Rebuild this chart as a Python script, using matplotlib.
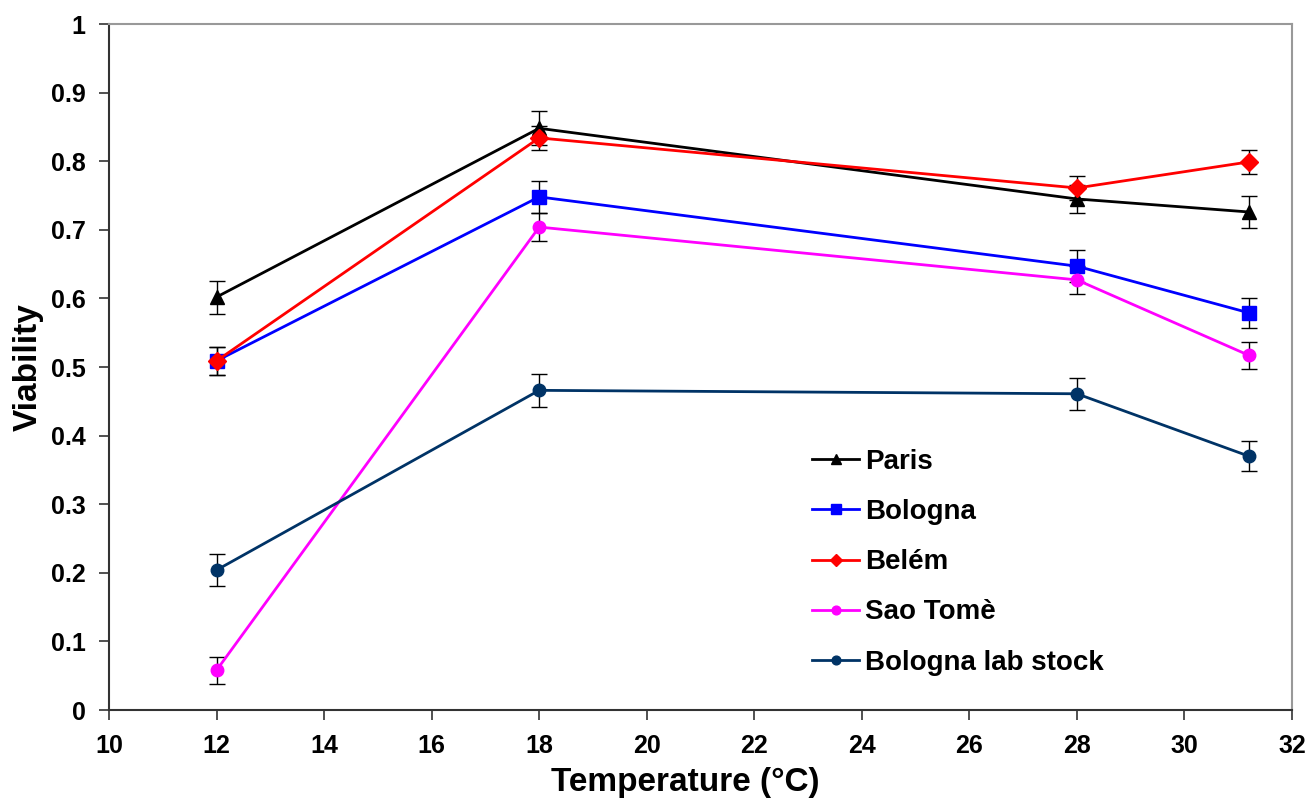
import matplotlib.pyplot as plt

plt.rcParams['font.family'] = ['Liberation Sans', 'DejaVu Sans']
plt.rcParams['font.weight'] = 'bold'

temps = [12, 18, 28, 31.2]

paris = [0.602, 0.848, 0.745, 0.726]
paris_err = [0.024, 0.025, 0.02, 0.023]

bologna = [0.509, 0.748, 0.647, 0.579]
bologna_err = [0.02, 0.023, 0.023, 0.022]

belem = [0.509, 0.834, 0.761, 0.799]
belem_err = [0.02, 0.017, 0.018, 0.018]

sao_tome = [0.058, 0.704, 0.627, 0.517]
sao_tome_err = [0.02, 0.02, 0.02, 0.02]

lab_stock = [0.204, 0.466, 0.461, 0.370]
lab_stock_err = [0.023, 0.024, 0.023, 0.022]

series = [
  ('Paris', paris, paris_err, 'black', '^', 10),
  ('Bologna', bologna, bologna_err, '#0000ff', 's', 10),
  ('Belém', belem, belem_err, '#ff0000', 'D', 9),
  ('Sao Tomè', sao_tome, sao_tome_err, '#ff00ff', 'o', 9),
  ('Bologna lab stock', lab_stock, lab_stock_err, '#003366', 'o', 9),
]

fig = plt.figure(figsize=(13.07, 8.01), dpi=100)
ax = fig.add_axes([0.0834, 0.1136, 0.9051, 0.8564])

for name, vals, errs, color, marker, ms in series:
  ax.errorbar(temps, vals, yerr=errs, fmt='none', ecolor='black',
              elinewidth=1.0, capsize=6, capthick=1.0, zorder=2)
  ax.plot(temps, vals, color=color, marker=marker, markersize=ms,
          linewidth=2, label=name, zorder=3)

ax.set_xlim(10, 32)
ax.set_ylim(0, 1)
ax.set_xticks(range(10, 33, 2))
ax.set_yticks([0, 0.1, 0.2, 0.3, 0.4, 0.5, 0.6, 0.7, 0.8, 0.9, 1])
ax.set_yticklabels(['0', '0.1', '0.2', '0.3', '0.4', '0.5', '0.6', '0.7', '0.8', '0.9', '1'])
ax.tick_params(axis='both', direction='out', length=7, width=1.2,
               labelsize=18, pad=10, color='#333333')

for side in ['top', 'right']:
  ax.spines[side].set_color('#999999')
  ax.spines[side].set_linewidth(1.5)
for side in ['left', 'bottom']:
  ax.spines[side].set_color('#333333')
  ax.spines[side].set_linewidth(1.5)

ax.set_xlabel('Temperature (°C)', fontsize=24, fontweight='bold')
ax.set_ylabel('Viability', fontsize=24, fontweight='bold')
ax.xaxis.set_label_coords(0.487, -0.083)
ax.yaxis.set_label_coords(-0.055, 0.5)

ax.legend(loc='lower left', bbox_to_anchor=(0.585, 0.034), borderaxespad=0,
          frameon=False, fontsize=20, handlelength=1.7, handletextpad=0.2,
          labelspacing=0.87, markerscale=0.7)

fig.savefig('out.png', dpi=100)
